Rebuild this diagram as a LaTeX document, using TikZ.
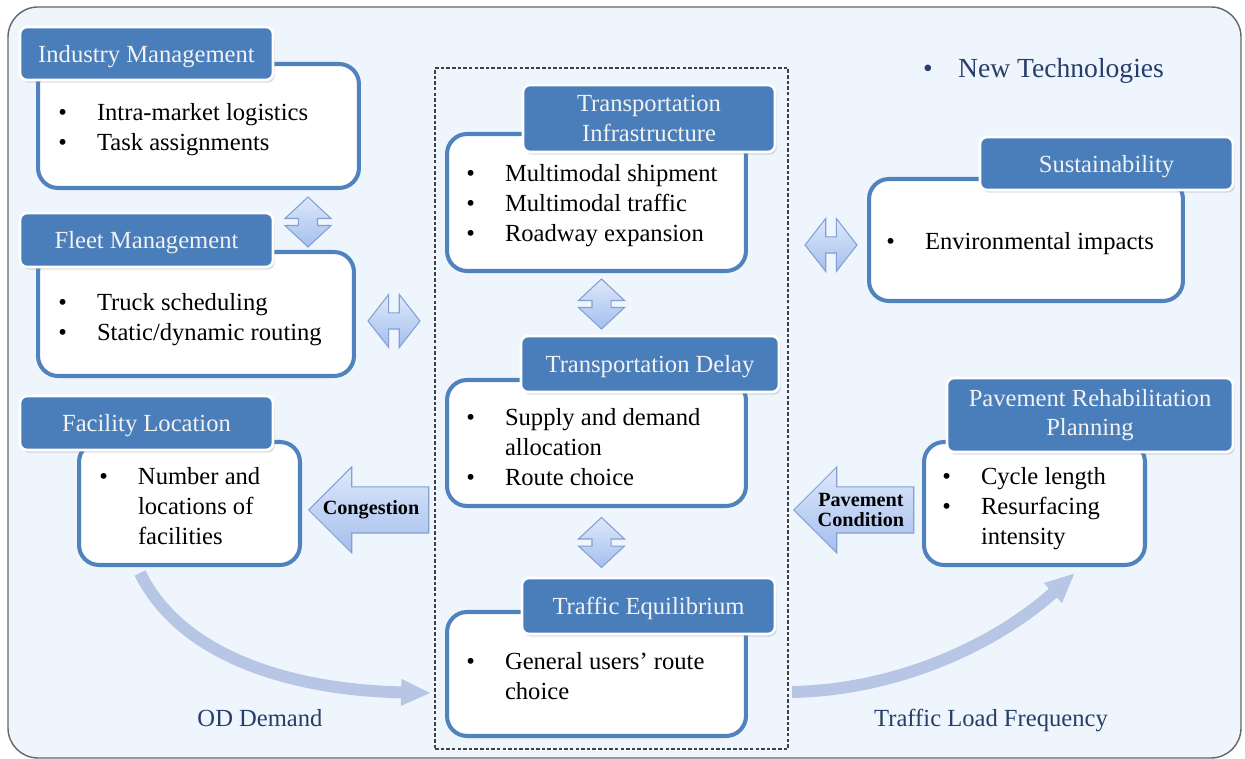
\documentclass[tikz,border=0pt]{standalone}
\usepackage{fontspec}
\setmainfont{Liberation Serif}
\usepackage{xcolor}
\usetikzlibrary{positioning, arrows.meta, shapes.arrows, shadows, calc}

\definecolor{headblue}{RGB}{74,126,187}
\definecolor{boxblue}{RGB}{80,130,190}
\definecolor{bgblue}{RGB}{238,245,252}
\definecolor{flowblue}{RGB}{182,198,228}
\definecolor{arrowtop}{RGB}{222,232,250}
\definecolor{arrowbot}{RGB}{164,191,238}
\definecolor{arrowline}{RGB}{130,160,210}
\definecolor{labelblue}{RGB}{38,62,105}

\newcommand{\itemlist}[1]{\begin{tabular}[t]{@{}p{22pt}@{}l@{}}#1\end{tabular}}

\begin{document}
\begin{tikzpicture}[
    x=0.02cm, y=-0.02cm,
    every node/.style={font=\fontsize{14}{16.8}\selectfont},
    panel/.style={draw=boxblue, line width=2.3pt, fill=white, rounded corners=0.4cm},
    header/.style={fill=headblue, draw=white, line width=1.5pt, rounded corners=0.14cm, text=white!95!black, align=center, inner sep=0pt, drop shadow={shadow xshift=1pt, shadow yshift=-1.5pt, opacity=0.25}},
    title/.style={header, text depth=0pt},
    items/.style={anchor=base west, inner sep=0pt},
    blockarrow/.style={draw=arrowline, line width=0.6pt, top color=arrowtop, bottom color=arrowbot},
    updown/.style={blockarrow, double arrow, shape border rotate=90, double arrow tip angle=94, double arrow head extend=0.27cm, minimum height=1.0cm, inner sep=0.18cm},
    leftright/.style={blockarrow, double arrow, double arrow tip angle=104, double arrow head extend=0.37cm, minimum height=1.04cm, inner sep=0.15cm},
    pointer/.style={blockarrow, single arrow, shape border rotate=180, single arrow tip angle=90, single arrow head extend=0.4cm, minimum height=2.4cm, inner sep=0.45cm},
    tag/.style={font=\bfseries\fontsize{11.5}{11.5}\selectfont, align=center, inner sep=0pt},
    flow/.style={draw=flowblue, line width=6.8pt, -{Triangle[length=17pt, width=14pt]}},
    caption/.style={text=labelblue, inner sep=0pt},
  ]

  \useasboundingbox (0,0) rectangle (1245,759);

  % --- Background ---
  \draw[draw=black!60, line width=0.8pt, fill=bgblue, rounded corners=0.6cm] (8,7) rectangle (1241,758);
  \node[draw=black!75, dashed, dash pattern=on 2pt off 1.2pt, line width=0.7pt, minimum width=7.06cm, minimum height=13.62cm, inner sep=0pt] (core) at (611.5,408.5) {};

  % --- Left column ---
  \node[panel, minimum width=6.42cm, minimum height=2.48cm] (ind) at (198.5,126) {};
  \node[title, minimum width=5.06cm, minimum height=1.06cm] (indh) at (146.5,53.5) {Industry Management};
  \node[items] (indl) at ([shift={(22,59)}]ind.north west) {\itemlist{\textbullet & Intra-market logistics\\ \textbullet & Task assignments}};

  \node[panel, minimum width=6.32cm, minimum height=2.48cm] (flt) at (196,314) {};
  \node[title, minimum width=5.06cm, minimum height=1.08cm] (flth) at (146.5,240) {Fleet Management};
  \node[items] (fltl) at ([shift={(22,61)}]flt.north west) {\itemlist{\textbullet & Truck scheduling\\ \textbullet & Static/dynamic routing}};

  \node[panel, minimum width=4.42cm, minimum height=2.46cm] (fac) at (189.5,503.5) {};
  \node[title, minimum width=5.06cm, minimum height=1.08cm] (fach) at (146.5,423) {Facility Location};
  \node[items] (facl) at ([shift={(22,45)}]fac.north west) {\itemlist{\textbullet & Number and\\ & locations of\\ & facilities}};

  % --- Centre column ---
  \node[panel, minimum width=5.98cm, minimum height=2.74cm] (ti) at (596.5,202.5) {};
  \node[header, minimum width=5.04cm, minimum height=1.34cm] (tih) at (649,118.5) {Transportation\\Infrastructure};
  \node[items] (til) at ([shift={(21,50)}]ti.north west) {\itemlist{\textbullet & Multimodal shipment\\ \textbullet & Multimodal traffic\\ \textbullet & Roadway expansion}};

  \node[panel, minimum width=5.98cm, minimum height=2.52cm] (dly) at (596.5,443) {};
  \node[title, minimum width=5.16cm, minimum height=1.12cm] (dlyh) at (650,364) {Transportation Delay};
  \node[items] (dlyl) at ([shift={(21,48)}]dly.north west) {\itemlist{\textbullet & Supply and demand\\ & allocation\\ \textbullet & Route choice}};

  \node[panel, minimum width=5.98cm, minimum height=2.48cm] (eq) at (596.5,674) {};
  \node[title, minimum width=5.06cm, minimum height=1.12cm] (eqh) at (648.5,606) {Traffic Equilibrium};
  \node[items] (eql) at ([shift={(21,60)}]eq.north west) {\itemlist{\textbullet & General users' route\\ & choice}};

  % --- Right column ---
  \node[caption, font=\fontsize{15.7}{18}\selectfont] (tech) at (1043.5,71) {\makebox[20pt][l]{\textbullet}New Technologies};

  \node[panel, minimum width=6.28cm, minimum height=2.44cm] (sus) at (1026,240) {};
  \node[title, minimum width=5.06cm, minimum height=1.06cm] (sush) at (1106.5,163.5) {Sustainability};
  \node[items] (susl) at ([shift={(19,73)}]sus.north west) {\itemlist{\textbullet & Environmental impacts}};

  \node[panel, minimum width=4.42cm, minimum height=2.46cm] (pav) at (1034.5,503.5) {};
  \node[header, minimum width=5.72cm, minimum height=1.48cm] (pavh) at (1090,415) {Pavement Rehabilitation\\Planning};
  \node[items] (pavl) at ([shift={(20,45)}]pav.north west) {\itemlist{\textbullet & Cycle length\\ \textbullet & Resurfacing\\ & intensity}};

  % --- Block arrows ---
  \node[updown] (ud1) at ([shift={(-53,32)}]ind.south east) {};
  \node[updown] (ud2) at ([shift={(5,31)}]ti.south) {};
  \node[updown] (ud3) at ([shift={(5,34.5)}]dly.south) {};
  \node[leftright] (lr1) at ([shift={(38,7)}]flt.east) {};
  \node[leftright] (lr2) at ([shift={(-36,5)}]sus.west) {};

  \node[pointer, anchor=tip] (cong) at ([shift={(6,6.5)}]fac.east) {};
  \node[tag] (congt) at ($(cong.tip)!0.52!(cong.tail)$) {Congestion};
  \node[pointer, anchor=tip] (pavc) at ([shift={(-129,6.5)}]pav.west) {};
  \node[tag] (pavct) at ($(pavc.tip)!0.56!(pavc.tail)$) {Pavement\\Condition};

  % --- Flows ---
  \draw[flow] ([shift={(-49.5,6)}]fac.south) .. controls +(40,82) and +(-143,-3) .. ([shift={(-14,19)}]eq.west);
  \draw[flow] ([shift={(44,18)}]eq.east) .. controls +(110,-2) and +(-75,68) .. ([shift={(40.5,6)}]pav.south);

  \node[caption] (od) at (260,718) {OD Demand};
  \node[caption] (tlf) at (991,720) {Traffic Load Frequency};

\end{tikzpicture}
\end{document}
